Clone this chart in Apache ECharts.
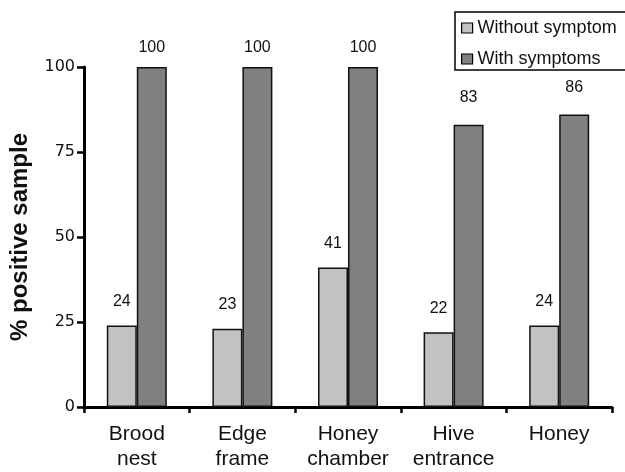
<!DOCTYPE html>
<html>
<head>
<meta charset="utf-8">
<script src="https://cdn.jsdelivr.net/npm/echarts@6/dist/echarts.min.js"></script>
<style>
html,body{margin:0;padding:0;background:#fff;}
#chart{width:625px;height:472px;}
</style>
</head>
<body>
<div id="chart"></div>
<script>
var categories = ['Brood\nnest', 'Edge\nframe', 'Honey\nchamber', 'Hive\nentrance', 'Honey'];
var withoutSymptom = [24, 23, 41, 22, 24];
var withSymptoms = [100, 100, 100, 83, 86];
var yTicks = [0, 25, 50, 75, 100];
var seriesNames = ['Without symptom', 'With symptoms'];
var yAxisTitle = '% positive sample';

var chart = echarts.init(document.getElementById('chart'));
var FONT = '"Liberation Sans", Arial, sans-serif';

function labelled(values, base, top) {
  return values.map(function (v) {
    return { value: v, label: { distance: v >= 100 ? top : base } };
  });
}

chart.setOption({
  animation: false,
  backgroundColor: '#fff',
  grid: { left: 84, right: 13, top: 67, bottom: 64, containLabel: false },
  legend: {
    orient: 'vertical',
    left: 455,
    top: 12,
    padding: [7, 30, 2, 6],
    itemGap: 13,
    itemWidth: 11,
    itemHeight: 10,
    icon: 'rect',
    borderColor: '#000',
    borderWidth: 1.5,
    itemStyle: { borderColor: '#000', borderWidth: 1.2 },
    textStyle: { fontFamily: FONT, fontSize: 18, color: '#111' },
    data: seriesNames
  },
  xAxis: {
    type: 'category',
    data: categories,
    axisLine: { lineStyle: { color: '#000', width: 3 } },
    axisTick: { show: true, length: 6, lineStyle: { color: '#000', width: 2.5 } },
    axisLabel: {
      fontFamily: FONT, fontSize: 21, color: '#111', margin: 15,
      lineHeight: 25, interval: 0
    }
  },
  yAxis: {
    type: 'value',
    min: yTicks[0],
    max: yTicks[yTicks.length - 1],
    interval: yTicks[1] - yTicks[0],
    name: yAxisTitle,
    nameLocation: 'middle',
    nameGap: 52,
    nameTextStyle: { fontFamily: FONT, fontSize: 24, fontWeight: 'bold', color: '#111' },
    splitLine: { show: false },
    axisLine: { show: true, lineStyle: { color: '#000', width: 3 } },
    axisTick: { show: true, length: 7, lineStyle: { color: '#000', width: 2.5 } },
    axisLabel: { fontFamily: '"DejaVu Sans", sans-serif', fontSize: 16, color: '#111', margin: 9 }
  },
  series: [
    {
      name: seriesNames[0],
      type: 'bar',
      barWidth: 30,
      barGap: '0%',
      data: labelled(withoutSymptom, 16, 16),
      itemStyle: { color: '#c2c2c2', borderColor: '#111', borderWidth: 1.5 },
      label: { show: true, position: 'top', distance: 16, fontFamily: FONT, fontSize: 16, color: '#111' }
    },
    {
      name: seriesNames[1],
      type: 'bar',
      barWidth: 30,
      barGap: '0%',
      data: labelled(withSymptoms, 19, 11),
      itemStyle: { color: '#808080', borderColor: '#111', borderWidth: 1.5 },
      label: { show: true, position: 'top', distance: 15, fontFamily: FONT, fontSize: 16, color: '#111' }
    }
  ]
});
</script>
</body>
</html>
